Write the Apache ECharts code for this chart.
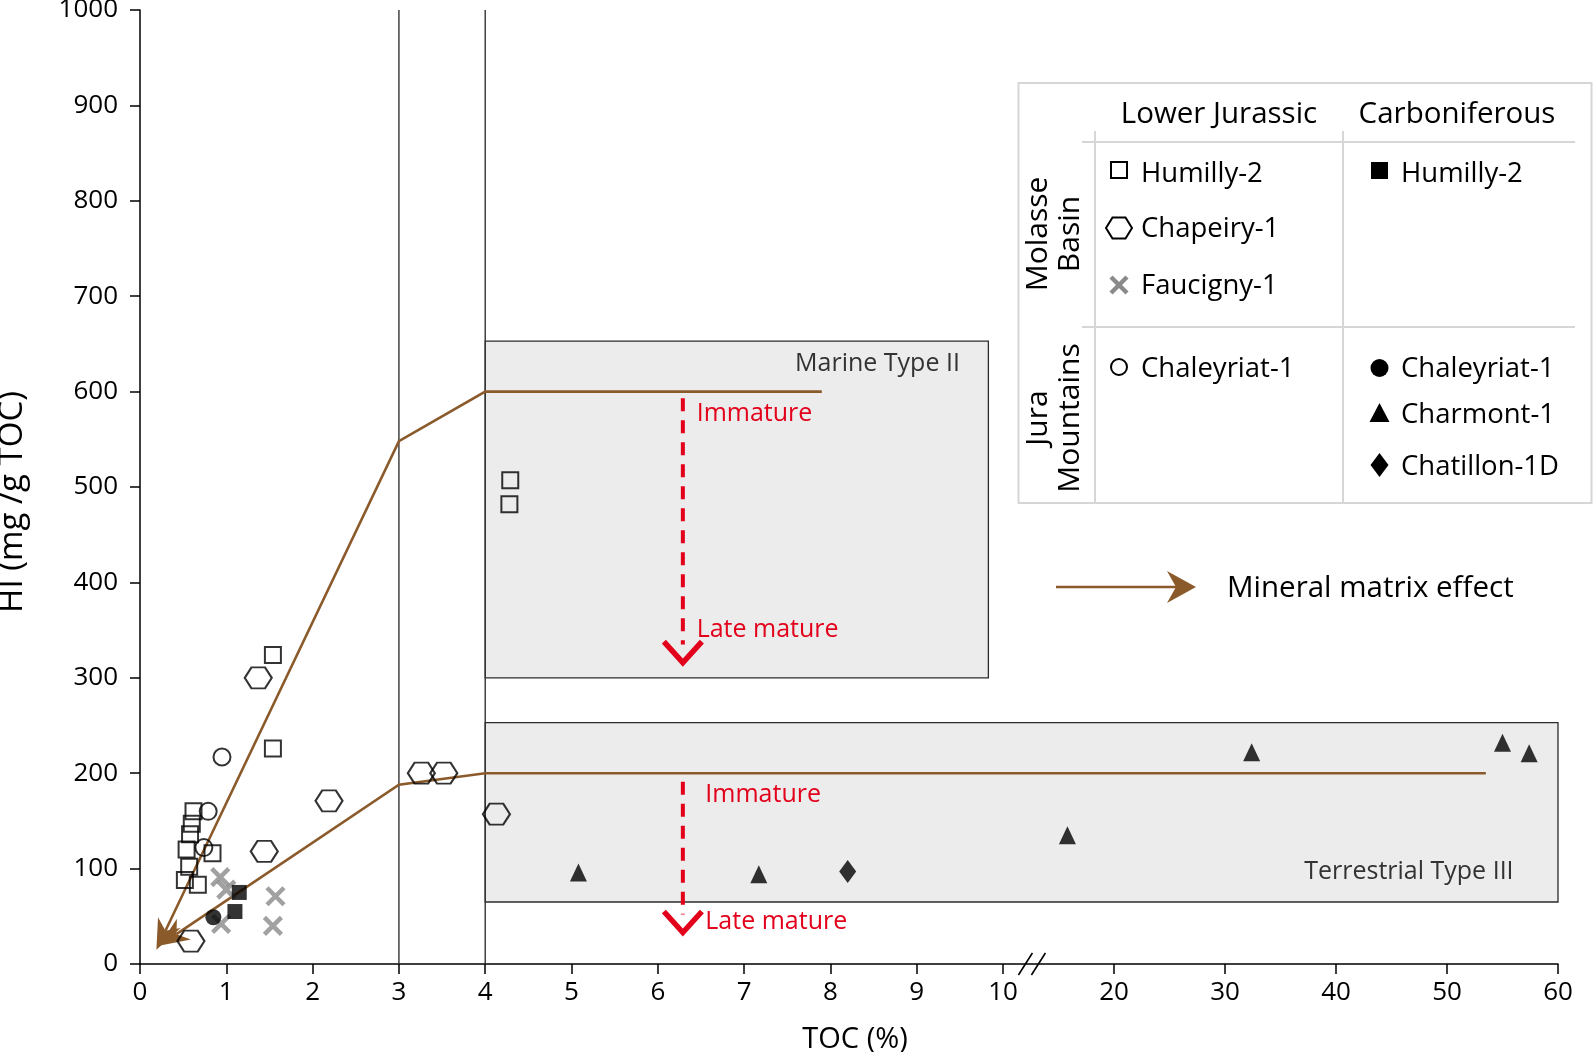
<!DOCTYPE html>
<html>
<head>
<meta charset="utf-8">
<script src="https://cdn.jsdelivr.net/npm/echarts@6/dist/echarts.min.js"></script>
<style>html,body{margin:0;padding:0;background:#fff}#c{width:1594px;height:1052px}</style>
</head>
<body>
<div id="c"></div>
<script>
// ---------------- data (TOC %, HI mg/g TOC) ----------------
const humilly2LJ   = [[0.62,160],[0.60,147],[0.58,136],[0.54,120],[0.84,116],[0.57,102],[0.52,88],[0.67,83],[1.54,324],[1.54,226],[4.29,507],[4.28,482]];
const chapeiry1    = [[1.37,300],[2.19,171],[1.44,118],[0.59,24],[3.26,200],[3.52,200],[4.13,157]];
const faucigny1    = [[0.93,91],[1.00,78],[1.57,71],[0.94,42],[1.54,40]];
const chaleyriatLJ = [[0.95,217],[0.79,160],[0.74,122]];
const humilly2C    = [[1.15,75],[1.10,55]];
const chaleyriatC  = [[0.85,49]];
const charmont1    = [[5.08,96],[7.17,94],[15.8,135],[32.4,222],[55.0,232],[57.4,221]];
const chatillon1D  = [[8.2,97]];

const marineLine      = [[0.19,15],[3,548],[4,600],[7.9,600]];
const terrestrialLine = [[0.22,19],[3,188],[4,200],[53.5,200]];
const marineBox       = [4, 9.83, 300, 653];   // x0, x1, y0, y1
const terrestrialBox  = [4, 60, 65, 253];
const refLinesX       = [3, 4];
const maturityUpper   = [6.29, 593, 316];      // x, yStart, yTip
const maturityLower   = [6.29, 191, 33];

const annoText = ['Marine Type II', 'Immature', 'Late mature', 'Immature', 'Late mature', 'Terrestrial Type III'];
const annoX    = [9.50, 6.45, 6.45, 6.55, 6.55, 56.0];
const annoY    = [629, 577, 350, 177, 44, 97];

const xTickLabels = [0,1,2,3,4,5,6,7,8,9,10,20,30,40,50,60];
const axisBreakAt = 12.6;

// ---------------- broken x scale: 0-10 linear, 10-60 compressed ----------------
const BRK = 10, K = 0.1286;
const D = x => x <= BRK ? x : BRK + (x - BRK) * K;
const U = d => d <= BRK + 1e-9 ? d : BRK + (d - BRK) / K;
const XMAX = D(60);
const tr = arr => arr.map(p => [D(p[0]), p[1]]);

const FONT = '"Open Sans", "Noto Sans", sans-serif';
const BROWN = '#8b5a2b';
const RED = '#e2001a';

const hexPath = 'path://M0,10 L5,0 L15,0 L20,10 L15,20 L5,20 Z';
const xPath = 'path://M0,0 L10,10 M10,0 L0,10';
const openStyle = {color: 'rgba(0,0,0,0)', borderColor: '#000', borderWidth: 2};

function brownRender(params, api) {
  const line = [marineLine, terrestrialLine][params.dataIndex];
  const pts = line.map(p => api.coord([D(p[0]), p[1]]));
  const T = pts[0], P = pts[1];
  let ux = P[0] - T[0], uy = P[1] - T[1];
  const len = Math.hypot(ux, uy); ux /= len; uy /= len;
  const nx = -uy, ny = ux;
  const L = 30, W = 12.5, N = 21;
  const B = [T[0] + ux * L, T[1] + uy * L];
  const Np = [T[0] + ux * N, T[1] + uy * N];
  const head = [T, [B[0] + nx * W, B[1] + ny * W], Np, [B[0] - nx * W, B[1] - ny * W]];
  return {type: 'group', children: [
    {type: 'polyline', shape: {points: [Np].concat(pts.slice(1))}, style: {stroke: BROWN, lineWidth: 2.6, fill: null}},
    {type: 'polygon', shape: {points: head}, style: {fill: BROWN}}
  ]};
}

function redRender(params, api) {
  const a = [maturityUpper, maturityLower][params.dataIndex];
  const top = api.coord([D(a[0]), a[1]]);
  const tip = api.coord([D(a[0]), a[2]]);
  return {type: 'group', children: [
    {type: 'line', shape: {x1: top[0], y1: top[1], x2: tip[0], y2: tip[1] - 18}, style: {stroke: RED, lineWidth: 4, lineDash: [13, 9]}},
    {type: 'polyline', shape: {points: [[tip[0] - 19, tip[1] - 21], [tip[0], tip[1]], [tip[0] + 19, tip[1] - 21]]},
      style: {stroke: RED, lineWidth: 5.5, fill: null, lineJoin: 'miter'}}
  ]};
}

function boxRender(params, api) {
  const b = [marineBox, terrestrialBox][params.dataIndex];
  const p1 = api.coord([D(b[0]), b[3]]);
  const p2 = api.coord([D(b[1]), b[2]]);
  return {type: 'rect', shape: {x: p1[0], y: p1[1], width: p2[0] - p1[0], height: p2[1] - p1[1]},
    style: {fill: '#ececec', stroke: '#2b2b2b', lineWidth: 1.3}};
}

function refRender(params, api) {
  const x = refLinesX[params.dataIndex];
  const a = api.coord([D(x), 0]), b = api.coord([D(x), 1000]);
  return {type: 'line', shape: {x1: a[0], y1: a[1], x2: b[0], y2: b[1]}, style: {stroke: '#333', lineWidth: 1.4}};
}

function annoRender(params, api) {
  const i = params.dataIndex;
  const p = api.coord([D(annoX[i]), annoY[i]]);
  const isType = (i === 0 || i === 5);
  return {type: 'text', x: p[0], y: p[1], style: {
    text: annoText[i], fontSize: 25, fontFamily: FONT,
    fill: isType ? '#333' : RED, align: isType ? 'right' : 'left', verticalAlign: 'middle'}};
}

function breakRender(params, api) {
  const c = api.coord([D(axisBreakAt), 0]);
  const mk = dx => ({type: 'line', shape: {x1: c[0] + dx - 7, y1: c[1] + 11, x2: c[0] + dx + 7, y2: c[1] - 11},
    style: {stroke: '#000', lineWidth: 1.6}});
  return {type: 'group', children: [mk(-6.5), mk(6.5)]};
}

const xTickVals = xTickLabels.map(D);

// ---------------- legend table (graphic) ----------------
const LG = '#d6d6d6';
const txt = (t, x, y, size, extra) => Object.assign({type: 'text', x: x, y: y,
  style: {text: t, fontSize: size, fontFamily: FONT, fill: '#000', align: 'left', verticalAlign: 'middle'}}, extra || {});
const ctxt = (t, x, y, size, extra) => { const e = txt(t, x, y, size, extra); e.style.align = 'center'; return e; };
const hex = (cx, cy, w, h) => ({type: 'polygon', shape: {points: [[cx - w/2, cy], [cx - w/4, cy - h/2], [cx + w/4, cy - h/2], [cx + w/2, cy], [cx + w/4, cy + h/2], [cx - w/4, cy + h/2]]},
  style: {fill: 'none', stroke: '#000', lineWidth: 2}});
const ROT = {rotation: Math.PI / 2};
const legendGraphics = [
  {type: 'rect', shape: {x: 1018.5, y: 83, width: 573, height: 420}, style: {fill: '#fff', stroke: LG, lineWidth: 2}},
  {type: 'line', shape: {x1: 1095, y1: 131, x2: 1095, y2: 503}, style: {stroke: LG, lineWidth: 2}},
  {type: 'line', shape: {x1: 1343, y1: 131, x2: 1343, y2: 503}, style: {stroke: LG, lineWidth: 2}},
  {type: 'line', shape: {x1: 1082, y1: 142, x2: 1575, y2: 142}, style: {stroke: LG, lineWidth: 2}},
  {type: 'line', shape: {x1: 1082, y1: 327, x2: 1575, y2: 327}, style: {stroke: LG, lineWidth: 2}},
  ctxt('Lower Jurassic', 1219, 115, 29.5),
  ctxt('Carboniferous', 1457, 115, 29.5),
  ctxt('Molasse', 1038, 234, 30, ROT),
  ctxt('Basin', 1070, 234, 30, ROT),
  ctxt('Jura', 1038, 418, 30, ROT),
  ctxt('Mountains', 1070, 418, 30, ROT),
  // Lower Jurassic column
  {type: 'rect', shape: {x: 1111, y: 162, width: 16, height: 16}, style: {fill: 'none', stroke: '#000', lineWidth: 2}},
  txt('Humilly-2', 1141, 174, 27.5),
  hex(1119, 228, 26, 21),
  txt('Chapeiry-1', 1141, 229, 27.5),
  {type: 'line', shape: {x1: 1111, y1: 277, x2: 1127, y2: 293}, style: {stroke: '#8a8a8a', lineWidth: 4.5}},
  {type: 'line', shape: {x1: 1127, y1: 277, x2: 1111, y2: 293}, style: {stroke: '#8a8a8a', lineWidth: 4.5}},
  txt('Faucigny-1', 1141, 286, 27.5),
  {type: 'circle', shape: {cx: 1119, cy: 367, r: 8}, style: {fill: 'none', stroke: '#000', lineWidth: 2}},
  txt('Chaleyriat-1', 1141, 369, 27.5),
  // Carboniferous column
  {type: 'rect', shape: {x: 1371, y: 162, width: 17, height: 17}, style: {fill: '#000'}},
  txt('Humilly-2', 1401, 174, 27.5),
  {type: 'circle', shape: {cx: 1379.5, cy: 368, r: 9}, style: {fill: '#000'}},
  txt('Chaleyriat-1', 1401, 369, 27.5),
  {type: 'polygon', shape: {points: [[1379.5, 403], [1389.5, 422], [1369.5, 422]]}, style: {fill: '#000'}},
  txt('Charmont-1', 1401, 415, 27.5),
  {type: 'polygon', shape: {points: [[1379.5, 453], [1388.5, 465], [1379.5, 477], [1370.5, 465]]}, style: {fill: '#000'}},
  txt('Chatillon-1D', 1401, 467, 27.5),
  // mineral matrix effect arrow
  {type: 'line', shape: {x1: 1056, y1: 587, x2: 1178, y2: 587}, style: {stroke: BROWN, lineWidth: 2.6}},
  {type: 'polygon', shape: {points: [[1196, 587], [1167, 571], [1176, 587], [1167, 603]]}, style: {fill: BROWN}},
  txt('Mineral matrix effect', 1227, 589, 29.5)
];

const option = {
  animation: false,
  backgroundColor: '#fff',
  textStyle: {fontFamily: FONT},
  grid: {left: 140, right: 36, top: 10, bottom: 88, containLabel: false, outerBoundsMode: 'none'},
  xAxis: {
    type: 'value', min: 0, max: XMAX,
    name: 'TOC (%)', nameLocation: 'middle', nameGap: 61,
    nameTextStyle: {fontSize: 29, color: '#000', fontFamily: FONT, padding: [0, 0, 0, 12]},
    axisLine: {show: true, onZero: false, lineStyle: {color: '#000', width: 1.5}},
    axisTick: {show: true, inside: false, length: 10, customValues: xTickVals, lineStyle: {color: '#000', width: 1.5}},
    axisLabel: {show: true, customValues: xTickVals, formatter: v => String(Math.round(U(v))),
      fontSize: 26, color: '#000', margin: 16, fontFamily: FONT},
    splitLine: {show: false}
  },
  yAxis: {
    type: 'value', min: 0, max: 1000, interval: 100,
    name: 'HI (mg /g TOC)', nameLocation: 'middle', nameGap: 111,
    nameTextStyle: {fontSize: 33, color: '#000', fontFamily: FONT, padding: [0, 30, 0, 0]},
    axisLine: {show: true, onZero: false, lineStyle: {color: '#000', width: 1.5}},
    axisTick: {show: true, inside: false, length: 10, lineStyle: {color: '#000', width: 1.5}},
    axisLabel: {fontSize: 26, color: '#000', margin: 22, fontFamily: FONT, formatter: v => String(v)},
    splitLine: {show: false}
  },
  series: [
    {type: 'custom', name: 'boxes', coordinateSystem: 'cartesian2d', clip: false, z: 1, silent: true,
      renderItem: boxRender, data: [[0, 0], [1, 0]]},
    {type: 'custom', name: 'ref', coordinateSystem: 'cartesian2d', clip: false, z: 2, silent: true,
      renderItem: refRender, data: [[0, 0], [1, 0]]},
    {type: 'custom', name: 'maturity', coordinateSystem: 'cartesian2d', clip: false, z: 3, silent: true,
      renderItem: redRender, data: [[0, 0], [1, 0]]},
    {type: 'custom', name: 'brown', coordinateSystem: 'cartesian2d', clip: false, z: 4, silent: true,
      renderItem: brownRender, data: [[0, 0], [1, 0]]},
    {type: 'custom', name: 'anno', coordinateSystem: 'cartesian2d', clip: false, z: 4, silent: true,
      renderItem: annoRender, data: annoText.map((t, i) => [i, 0])},
    {type: 'custom', name: 'break', coordinateSystem: 'cartesian2d', clip: false, z: 6, silent: true,
      renderItem: breakRender, data: [[0, 0]]},
    {type: 'scatter', name: 'Humilly-2 (LJ)', z: 5, symbol: 'rect', symbolSize: 16, itemStyle: openStyle, data: tr(humilly2LJ)},
    {type: 'scatter', name: 'Chapeiry-1', z: 5, symbol: hexPath, symbolSize: [27, 21], itemStyle: openStyle, data: tr(chapeiry1)},
    {type: 'scatter', name: 'Faucigny-1', z: 5, symbol: xPath, symbolSize: 17,
      itemStyle: {color: 'rgba(0,0,0,0)', borderColor: '#8a8a8a', borderWidth: 4.5}, data: tr(faucigny1)},
    {type: 'scatter', name: 'Chaleyriat-1 (LJ)', z: 5, symbol: 'circle', symbolSize: 17, itemStyle: openStyle, data: tr(chaleyriatLJ)},
    {type: 'scatter', name: 'Humilly-2 (C)', z: 5, symbol: 'rect', symbolSize: 15, itemStyle: {color: '#000'}, data: tr(humilly2C)},
    {type: 'scatter', name: 'Chaleyriat-1 (C)', z: 5, symbol: 'circle', symbolSize: 16, itemStyle: {color: '#000'}, data: tr(chaleyriatC)},
    {type: 'scatter', name: 'Charmont-1', z: 5, symbol: 'triangle', symbolSize: [17, 18], itemStyle: {color: '#000'}, data: tr(charmont1)},
    {type: 'scatter', name: 'Chatillon-1D', z: 5, symbol: 'diamond', symbolSize: [17, 23], itemStyle: {color: '#000'}, data: tr(chatillon1D)}
  ],
  graphic: {elements: legendGraphics}
};

const chart = echarts.init(document.getElementById('c'), null, {renderer: 'canvas'});
chart.setOption(option);
</script>
</body>
</html>
